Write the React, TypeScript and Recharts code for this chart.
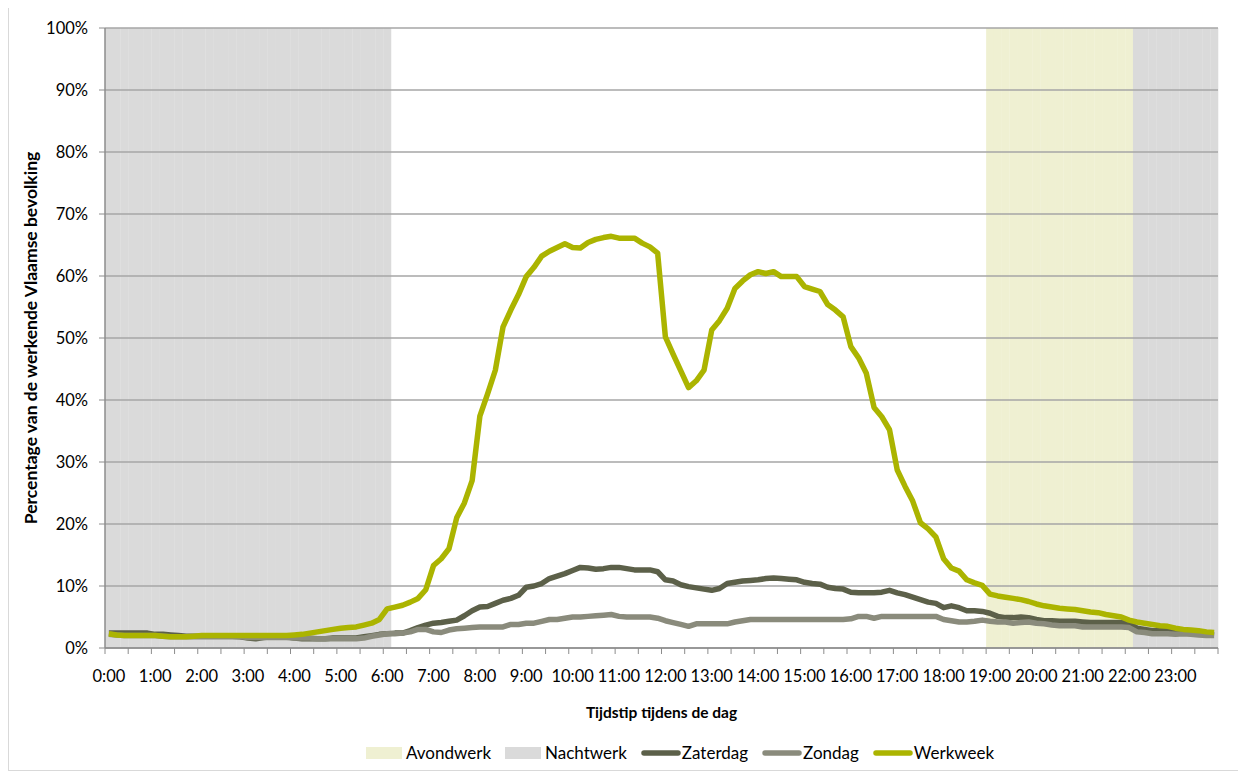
import React from 'react';
import { ComposedChart, Bar, Line, XAxis, YAxis, CartesianGrid, Legend } from 'recharts';

// tijdstippen per 10 minuten: 0:00 ... 23:50
const tijdstippen: string[] = Array.from({ length: 144 }, (_, i) =>
  `${Math.floor(i / 6)}:${String((i % 6) * 10).padStart(2, '0')}`
);

const werkweek = [
  2.3, 2.1, 2.0, 2.0, 2.0, 2.0,
  2.0, 1.9, 1.8, 1.8, 1.8, 1.9,
  2.0, 2.0, 2.0, 2.0, 2.0, 2.0,
  2.0, 2.0, 2.0, 2.0, 2.0, 2.0,
  2.1, 2.2, 2.4, 2.6, 2.8, 3.0,
  3.2, 3.3, 3.4, 3.7, 4.0, 4.6,
  6.3, 6.6, 6.9, 7.4, 8.0, 9.4,
  13.3, 14.4, 16.0, 21.0, 23.4, 27.0,
  37.4, 41.0, 44.8, 51.8, 54.5, 57.0,
  59.9, 61.4, 63.2, 64.0, 64.6, 65.2,
  64.6, 64.5, 65.4, 65.9, 66.2, 66.4,
  66.1, 66.1, 66.1, 65.3, 64.7, 63.7,
  50.2, 47.4, 44.7, 42.0, 43.1, 44.8,
  51.3, 52.8, 54.8, 58.0, 59.2, 60.2,
  60.7, 60.4, 60.7, 59.9, 59.9, 59.9,
  58.3, 57.9, 57.5, 55.4, 54.5, 53.4,
  48.6, 46.8, 44.3, 38.8, 37.3, 35.2,
  28.7, 26.1, 23.7, 20.2, 19.2, 17.9,
  14.4, 12.9, 12.4, 11.0, 10.5, 10.1,
  8.7, 8.4, 8.2, 8.0, 7.8, 7.5,
  7.1, 6.8, 6.6, 6.4, 6.3, 6.2,
  6.0, 5.8, 5.7, 5.4, 5.2, 5.0,
  4.5, 4.2, 4.0, 3.8, 3.6, 3.5,
  3.2, 3.0, 2.9, 2.8, 2.6, 2.5,
];

const zaterdag = [
  2.4, 2.4, 2.4, 2.4, 2.4, 2.4,
  2.2, 2.2, 2.1, 2.0, 1.9, 1.9,
  1.9, 1.9, 1.9, 1.9, 1.9, 1.8,
  1.6, 1.5, 1.7, 1.8, 1.8, 1.8,
  1.6, 1.5, 1.5, 1.5, 1.5, 1.6,
  1.6, 1.6, 1.6, 1.8, 2.0, 2.2,
  2.3, 2.4, 2.4, 2.8, 3.3, 3.7,
  4.0, 4.1, 4.3, 4.5, 5.2, 6.0,
  6.6, 6.7, 7.2, 7.7, 8.0, 8.5,
  9.8, 10.0, 10.4, 11.2, 11.6, 12.0,
  12.5, 13.0, 12.9, 12.7, 12.8, 13.0,
  13.0, 12.8, 12.6, 12.6, 12.6, 12.3,
  11.0, 10.8, 10.2, 9.9, 9.7, 9.5,
  9.3, 9.6, 10.4, 10.6, 10.8, 10.9,
  11.0, 11.2, 11.3, 11.2, 11.1, 11.0,
  10.6, 10.4, 10.3, 9.8, 9.6, 9.5,
  9.0, 8.9, 8.9, 8.9, 9.0, 9.3,
  8.9, 8.6, 8.2, 7.8, 7.4, 7.2,
  6.5, 6.8, 6.5, 6.0, 6.0, 5.9,
  5.6, 5.1, 4.9, 4.9, 5.0, 4.9,
  4.6, 4.4, 4.4, 4.3, 4.3, 4.3,
  4.2, 4.1, 4.1, 4.1, 4.1, 4.1,
  4.0, 3.2, 3.0, 2.8, 2.8, 2.9,
  2.6, 2.5, 2.4, 2.3, 2.2, 2.1,
];

const zondag = [
  2.2, 2.1, 2.0, 2.0, 2.0, 2.0,
  2.0, 1.9, 1.8, 1.8, 1.8, 1.8,
  1.8, 1.8, 1.8, 1.8, 1.8, 1.8,
  1.7, 1.7, 1.7, 1.7, 1.7, 1.7,
  1.6, 1.6, 1.6, 1.5, 1.5, 1.5,
  1.5, 1.5, 1.5, 1.6, 1.9, 2.1,
  2.3, 2.3, 2.4, 2.6, 3.0, 3.0,
  2.6, 2.5, 2.9, 3.1, 3.2, 3.3,
  3.4, 3.4, 3.4, 3.4, 3.8, 3.8,
  4.0, 4.0, 4.3, 4.6, 4.6, 4.8,
  5.0, 5.0, 5.1, 5.2, 5.3, 5.4,
  5.1, 5.0, 5.0, 5.0, 5.0, 4.8,
  4.4, 4.1, 3.8, 3.5, 3.9, 3.9,
  3.9, 3.9, 3.9, 4.2, 4.4, 4.6,
  4.6, 4.6, 4.6, 4.6, 4.6, 4.6,
  4.6, 4.6, 4.6, 4.6, 4.6, 4.6,
  4.7, 5.1, 5.1, 4.8, 5.1, 5.1,
  5.1, 5.1, 5.1, 5.1, 5.1, 5.1,
  4.6, 4.4, 4.2, 4.2, 4.3, 4.5,
  4.3, 4.2, 4.2, 4.0, 4.1, 4.2,
  4.0, 3.9, 3.7, 3.6, 3.6, 3.6,
  3.4, 3.4, 3.4, 3.4, 3.4, 3.4,
  3.3, 2.6, 2.5, 2.3, 2.3, 2.3,
  2.2, 2.3, 2.2, 2.1, 2.0, 2.0,
];

// blokken van nacht- en avondwerk (eerste en laatste tijdstip)
const nachtwerk: [string, string][] = [['0:00', '6:00'], ['22:10', '23:50']];
const avondwerk: [string, string][] = [['19:00', '22:00']];

const yTicks = [0, 10, 20, 30, 40, 50, 60, 70, 80, 90, 100];

const inBlok = (idx: number, blokken: [string, string][]) =>
  blokken.some(([a, b]) => idx >= tijdstippen.indexOf(a) && idx <= tijdstippen.indexOf(b));

const data = tijdstippen.map((t, i) => ({
  t,
  avond: inBlok(i, avondwerk) ? 100 : null,
  nacht: inBlok(i, nachtwerk) ? 100 : null,
  zaterdag: zaterdag[i],
  zondag: zondag[i],
  werkweek: werkweek[i],
}));

const FONT = 'Lato, "Noto Sans", sans-serif';
const AXIS = '#8c8c8c';
const legendOrder = ['Avondwerk', 'Nachtwerk', 'Zaterdag', 'Zondag', 'Werkweek'];

const TimeTick = (props: any) => {
  const { x, y, payload } = props;
  const half = typeof payload.offset === 'number' && payload.offset > 0 ? payload.offset : 3.86;
  const left = x - half;
  const label: string = String(payload.value);
  return (
    <g>
      <line x1={left} x2={left} y1={y} y2={y + 6} stroke={AXIS} strokeWidth={1} />
      {label === '23:30' && (
        <line x1={left + 6 * half} x2={left + 6 * half} y1={y} y2={y + 6} stroke={AXIS} strokeWidth={1} />
      )}
      {label.endsWith(':00') && (
        <text x={x} y={y + 28} textAnchor="middle" dominantBaseline="central" fill="#000" fontSize={16.5} fontFamily={FONT}>
          {label}
        </text>
      )}
    </g>
  );
};

const LegendContent = (props: any) => {
  const items = [...(props.payload || [])].sort(
    (a: any, b: any) => legendOrder.indexOf(a.value) - legendOrder.indexOf(b.value)
  );
  return (
    <div style={{ display: 'flex', alignItems: 'center', fontFamily: FONT, fontSize: 17, whiteSpace: 'nowrap' }}>
      {items.map((it: any) => {
        const isBar = it.value === 'Avondwerk' || it.value === 'Nachtwerk';
        return (
          <div key={it.value} style={{ display: 'flex', alignItems: 'center', marginRight: 14 }}>
            <svg width={isBar ? 36 : 40} height={14} style={{ marginRight: isBar ? 4 : 1 }}>
              {isBar ? (
                <rect x={0} y={1} width={36} height={12} fill={it.color} />
              ) : (
                <line x1={3} x2={37} y1={7} y2={7} stroke={it.color} strokeWidth={5.5} strokeLinecap="round" />
              )}
            </svg>
            <span style={{ color: '#000' }}>{it.value}</span>
          </div>
        );
      })}
    </div>
  );
};

const App = () => {
  return (
    <div
      style={{
        width: 1238,
        height: 763,
        border: '1px solid #d9d9d9',
        marginTop: -2,
        background: '#fff',
        fontFamily: FONT,
        position: 'relative',
      }}
    >
      <ComposedChart
        width={1237}
        height={762}
        data={data}
        margin={{ top: 21, right: 28, left: 40, bottom: 71 }}
        barCategoryGap={0}
        barGap={0}
      >
        <Bar dataKey="avond" name="Avondwerk" stackId="bg" fill="#eff0d2" isAnimationActive={false} zIndex={-200} />
        <Bar dataKey="nacht" name="Nachtwerk" stackId="bg" fill="#dadada" isAnimationActive={false} zIndex={-200} />
        <CartesianGrid vertical={false} stroke="#a6a6a6" strokeWidth={1.5} />
        <XAxis
          dataKey="t"
          interval={2}
          height={50}
          tickSize={0}
          tickMargin={0}
          tickLine={false}
          axisLine={{ stroke: AXIS, strokeWidth: 1.5 }}
          tick={<TimeTick />}
          label={{
            content: (p: any) => {
              const vb = p.viewBox || {};
              return (
                <text
                  x={vb.x + vb.width / 2}
                  y={vb.y + 64}
                  textAnchor="middle"
                  dominantBaseline="central"
                  fontWeight="bold"
                  fontSize={15.5}
                  fontFamily={FONT}
                  fill="#000"
                >
                  Tijdstip tijdens de dag
                </text>
              );
            },
          }}
        />
        <YAxis
          domain={[0, 100]}
          ticks={yTicks}
          width={56}
          tickSize={6}
          tickMargin={11}
          tickFormatter={(v: number) => `${v}%`}
          tick={{ fill: '#000', fontSize: 16.5, fontFamily: FONT }}
          tickLine={{ stroke: AXIS }}
          axisLine={{ stroke: AXIS, strokeWidth: 1.5 }}
          label={{
            content: (p: any) => {
              const vb = p.viewBox || {};
              const cx = 21;
              const cy = vb.y + vb.height / 2;
              return (
                <text
                  x={cx}
                  y={cy}
                  transform={`rotate(-90, ${cx}, ${cy})`}
                  textAnchor="middle"
                  dominantBaseline="central"
                  fontWeight="bold"
                  fontSize={17.5}
                  fontFamily={FONT}
                  fill="#000"
                >
                  Percentage van de werkende Vlaamse bevolking
                </text>
              );
            },
          }}
        />
        <Line type="linear" dataKey="zaterdag" name="Zaterdag" stroke="#5c6049" strokeWidth={5.5} dot={false} strokeLinejoin="round" isAnimationActive={false} />
        <Line type="linear" dataKey="zondag" name="Zondag" stroke="#8a8b7c" strokeWidth={5.5} dot={false} strokeLinejoin="round" isAnimationActive={false} />
        <Line type="linear" dataKey="werkweek" name="Werkweek" stroke="#abb400" strokeWidth={5.5} dot={false} strokeLinejoin="round" isAnimationActive={false} />
        <Legend
          layout="horizontal"
          verticalAlign="middle"
          align="center"
          content={<LegendContent />}
          wrapperStyle={{ left: 357, top: 735, width: 'auto', height: 20 }}
        />
      </ComposedChart>
    </div>
  );
};

export default App;
